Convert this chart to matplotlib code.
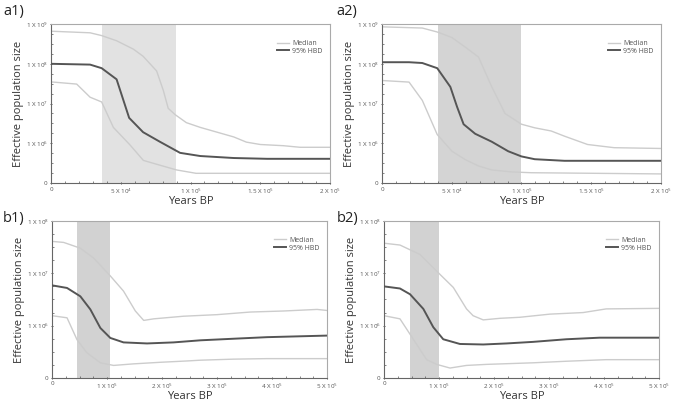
import matplotlib
matplotlib.use("Agg")
import matplotlib.pyplot as plt
from matplotlib import font_manager
import numpy as np

# ---- data (log10 of effective population size) ----
a1_hbd_x = [0, 28e3, 36.3e3, 47e3, 56e3, 66e3, 78e3, 92.5e3, 107e3, 131e3, 155e3, 200e3]
a1_hbd_y = [8.0, 7.98, 7.89, 7.61, 6.64, 6.28, 6.04, 5.76, 5.68, 5.63, 5.61, 5.61]
a1_up_x = [0, 28e3, 36.3e3, 47e3, 59e3, 66e3, 75.7e3, 80.5e3, 84e3, 89e3, 97e3, 107e3, 119e3, 131e3, 140e3, 150e3, 166.5e3, 178.5e3, 200e3]
a1_up_y = [8.82, 8.78, 8.71, 8.58, 8.37, 8.19, 7.82, 7.33, 6.88, 6.72, 6.52, 6.40, 6.28, 6.16, 6.03, 5.97, 5.94, 5.90, 5.90]
a1_lo_x = [0, 18.4e3, 28e3, 36.3e3, 44.7e3, 56.6e3, 66.2e3, 78e3, 90e3, 104e3, 200e3]
a1_lo_y = [7.545, 7.49, 7.16, 7.04, 6.40, 5.96, 5.57, 5.45, 5.33, 5.245, 5.245]

a2_hbd_x = [0, 19.4e3, 28.9e3, 39.6e3, 49e3, 53.8e3, 58.5e3, 66.8e3, 78.7e3, 90.5e3, 100e3, 109.5e3, 130.8e3, 200e3]
a2_hbd_y = [8.04, 8.04, 8.02, 7.89, 7.42, 6.92, 6.48, 6.24, 6.04, 5.80, 5.67, 5.60, 5.56, 5.56]
a2_up_x = [0, 28.9e3, 39.6e3, 50.2e3, 59.7e3, 69.2e3, 78.7e3, 88.2e3, 100e3, 109.5e3, 121.3e3, 130.8e3, 147.4e3, 166.4e3, 200e3]
a2_up_y = [8.93, 8.90, 8.80, 8.66, 8.42, 8.17, 7.42, 6.75, 6.48, 6.39, 6.31, 6.18, 5.97, 5.89, 5.87]
a2_lo_x = [0, 19.4e3, 28.9e3, 39.6e3, 50.2e3, 59.7e3, 69.2e3, 78.7e3, 92.9e3, 107.1e3, 200e3]
a2_lo_y = [7.58, 7.54, 7.08, 6.22, 5.80, 5.59, 5.43, 5.33, 5.28, 5.26, 5.23]

b1_hbd_x = [0, 27.3e3, 51.5e3, 69.7e3, 87.9e3, 106e3, 130e3, 172.7e3, 221e3, 270e3, 330e3, 391e3, 500e3]
b1_hbd_y = [6.77, 6.72, 6.56, 6.31, 5.955, 5.765, 5.68, 5.66, 5.68, 5.72, 5.75, 5.78, 5.81]
b1_up_x = [0, 21.2e3, 51.5e3, 75.8e3, 106e3, 130e3, 151.5e3, 166.7e3, 184.8e3, 239e3, 300e3, 360.6e3, 421e3, 482e3, 500e3]
b1_up_y = [7.61, 7.59, 7.48, 7.29, 6.95, 6.66, 6.28, 6.10, 6.13, 6.18, 6.21, 6.26, 6.28, 6.31, 6.29]
b1_lo_x = [0, 27.3e3, 45.5e3, 63.6e3, 87.9e3, 112e3, 148.5e3, 197e3, 245e3, 270e3, 330e3, 391e3, 500e3]
b1_lo_y = [6.19, 6.15, 5.73, 5.48, 5.29, 5.24, 5.27, 5.30, 5.325, 5.34, 5.36, 5.37, 5.37]

b2_hbd_x = [0, 29e3, 47.3e3, 71.5e3, 89.6e3, 107.7e3, 138e3, 180.4e3, 222.8e3, 271e3, 331.7e3, 392e3, 500e3]
b2_hbd_y = [6.75, 6.71, 6.60, 6.32, 5.97, 5.74, 5.65, 5.64, 5.66, 5.69, 5.74, 5.77, 5.77]
b2_up_x = [0, 29e3, 65.4e3, 101.7e3, 126e3, 150e3, 162e3, 180.4e3, 210.7e3, 247e3, 301.5e3, 362e3, 404e3, 500e3]
b2_up_y = [7.575, 7.54, 7.36, 6.98, 6.73, 6.32, 6.19, 6.11, 6.14, 6.16, 6.22, 6.25, 6.32, 6.33]
b2_lo_x = [0, 29e3, 53.3e3, 77.5e3, 95.7e3, 120e3, 150e3, 186.5e3, 271e3, 331.7e3, 404e3, 500e3]
b2_lo_y = [6.19, 6.13, 5.74, 5.35, 5.26, 5.19, 5.24, 5.26, 5.29, 5.32, 5.35, 5.35]

shade_a1 = (36.8e3, 89.4e3)
shade_a2 = (40e3, 100e3)
shade_b1 = (46e3, 105e3)
shade_b2 = (48e3, 100e3)

a_xticks = [0, 5e4, 1e5, 1.5e5, 2e5]
a_xticklabels = ["0", r"5 X 10$^{4}$", r"1 X 10$^{5}$", r"1.5 X 10$^{5}$", r"2 X 10$^{5}$"]
b_xticks = [0, 1e5, 2e5, 3e5, 4e5, 5e5]
b_xticklabels = ["0", r"1 X 10$^{5}$", r"2 X 10$^{5}$", r"3 X 10$^{5}$", r"4 X 10$^{5}$", r"5 X 10$^{5}$"]
a_yticks = [5, 6, 7, 8, 9]
a_yticklabels = ["0", r"1 X 10$^{6}$", r"1 X 10$^{7}$", r"1 X 10$^{8}$", r"1 X 10$^{9}$"]
b_yticks = [5, 6, 7, 8]
b_yticklabels = ["0", r"1 X 10$^{6}$", r"1 X 10$^{7}$", r"1 X 10$^{8}$"]

# ---- font choice ----
family = "DejaVu Sans"
for cand in ["Liberation Sans Narrow", "Open Sans", "Liberation Sans"]:
    try:
        font_manager.findfont(cand, fallback_to_default=False)
        family = cand
        break
    except Exception:
        pass
plt.rcParams["font.family"] = [family, "DejaVu Sans"]
plt.rcParams["mathtext.fontset"] = "custom"
plt.rcParams["mathtext.rm"] = family

DARK = "#555555"
LIGHT = "#cccccc"

fig = plt.figure(figsize=(6.73, 4.05), dpi=100)

panels = [
    ("a1)", [0.0758, 0.548, 0.4146, 0.3926], a1_hbd_x, a1_hbd_y, a1_up_x, a1_up_y, a1_lo_x, a1_lo_y,
     shade_a1, "#e2e2e2", 2e5, a_xticks, a_xticklabels, a_yticks, a_yticklabels, (3, 4)),
    ("a2)", [0.5676, 0.548, 0.4145, 0.3926], a2_hbd_x, a2_hbd_y, a2_up_x, a2_up_y, a2_lo_x, a2_lo_y,
     shade_a2, "#d4d4d4", 2e5, a_xticks, a_xticklabels, a_yticks, a_yticklabels, (336, 4)),
    ("b1)", [0.0773, 0.0667, 0.4086, 0.3877], b1_hbd_x, b1_hbd_y, b1_up_x, b1_up_y, b1_lo_x, b1_lo_y,
     shade_b1, "#d2d2d2", 5e5, b_xticks, b_xticklabels, b_yticks, b_yticklabels, (3, 211)),
    ("b2)", [0.5706, 0.0667, 0.4086, 0.3877], b2_hbd_x, b2_hbd_y, b2_up_x, b2_up_y, b2_lo_x, b2_lo_y,
     shade_b2, "#d2d2d2", 5e5, b_xticks, b_xticklabels, b_yticks, b_yticklabels, (337, 211)),
]

W, H = 673.0, 405.0
for (lab, rect, hx, hy, ux, uy, lx, ly, shade, scol, xmax, xt, xtl, yt, ytl, labpos) in panels:
    ax = fig.add_axes(rect)
    ax.axvspan(shade[0], shade[1], color=scol, lw=0, zorder=0)
    ax.plot(ux, uy, color=LIGHT, lw=1.0, label="Median", zorder=2)
    ax.plot(lx, ly, color=LIGHT, lw=1.0, zorder=2)
    ax.plot(hx, hy, color=DARK, lw=1.4, label="95% HBD", zorder=3)
    ax.set_xlim(0, xmax)
    ax.set_ylim(yt[0], yt[-1])
    ax.set_xticks(xt)
    ax.set_xticklabels(xtl)
    ax.set_yticks(yt)
    ax.set_yticklabels(ytl)
    ax.set_xticks(np.linspace(0, xmax, 21), minor=True)
    ax.set_yticks(np.arange(yt[0], yt[-1] + 0.01, 0.25), minor=True)
    ax.tick_params(axis="both", which="major", labelsize=4.5, colors="#444444", length=2, width=0.6,
                   labelcolor="#555555", pad=1.5, direction="inout")
    ax.tick_params(axis="both", which="minor", length=1.6, width=0.5, colors="#555555", direction="in")
    for side in ("top", "right"):
        ax.spines[side].set_color("#aaaaaa")
        ax.spines[side].set_linewidth(0.8)
    for side in ("left", "bottom"):
        ax.spines[side].set_color("#666666")
        ax.spines[side].set_linewidth(0.8)
    ax.set_xlabel("Years BP", fontsize=8, color="#333333", labelpad=0)
    ax.set_ylabel("Effective population size", fontsize=8, color="#333333", labelpad=1)
    leg = ax.legend(loc="upper right", bbox_to_anchor=(0.99, 0.93), frameon=False, fontsize=5,
                    handlelength=1.7, handletextpad=0.4, labelspacing=0.1, borderpad=0.2)
    for t in leg.get_texts():
        t.set_color("#555555")
    fig.text(labpos[0] / W, 1 - labpos[1] / H, lab, fontsize=10.5, color="#222222", ha="left", va="top")

fig.savefig("out.png", dpi=100)
